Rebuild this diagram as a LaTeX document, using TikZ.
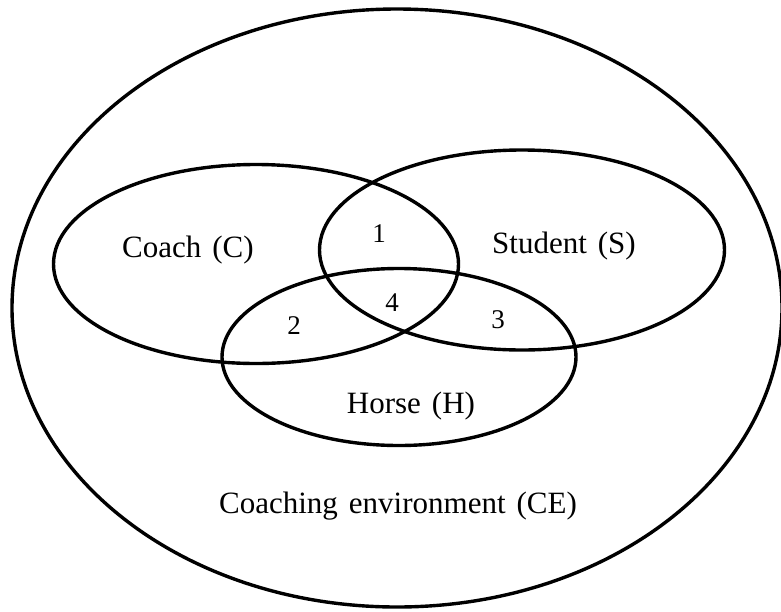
\documentclass[tikz,border=0pt]{standalone}
\usepackage{fontspec}
\setmainfont{Liberation Serif}
\usetikzlibrary{shapes.geometric}
\newcommand\labfont{\fontsize{31}{34}\selectfont\spaceskip=11pt\relax}
\begin{document}
\begin{tikzpicture}[x=1pt, y=-1pt, set/.style={ellipse, draw, inner sep=0pt, line width=3.4pt}, lab/.style={font=\labfont}, num/.style={font=\fontsize{27}{29}\selectfont}]
			\useasboundingbox (0,0) rectangle (781,611);
			\node[set, minimum width=770pt, minimum height=598pt] (ce) at (397,308) {};
			\node[set, minimum width=405pt, minimum height=199pt] (c) at (256,264) {};
			\node[set, minimum width=405pt, minimum height=200pt] (s) at (522,250) {};
			\node[set, minimum width=354pt, minimum height=177pt] (h) at (399,357) {};
			\node[lab] (cl) at (188,250) {Coach (C)};
			\node[lab] (sl) at (564,246) {Student (S)};
			\node[lab] (hl) at (411,406) {Horse (H)};
			\node[lab] (cel) at (398,506) {Coaching environment (CE)};
			\node[num] (n1) at (379,234) {1};
			\node[num] (n2) at (294,326) {2};
			\node[num] (n3) at (498,320) {3};
			\node[num] (n4) at (392,303) {4};
		\end{tikzpicture}
\end{document}
